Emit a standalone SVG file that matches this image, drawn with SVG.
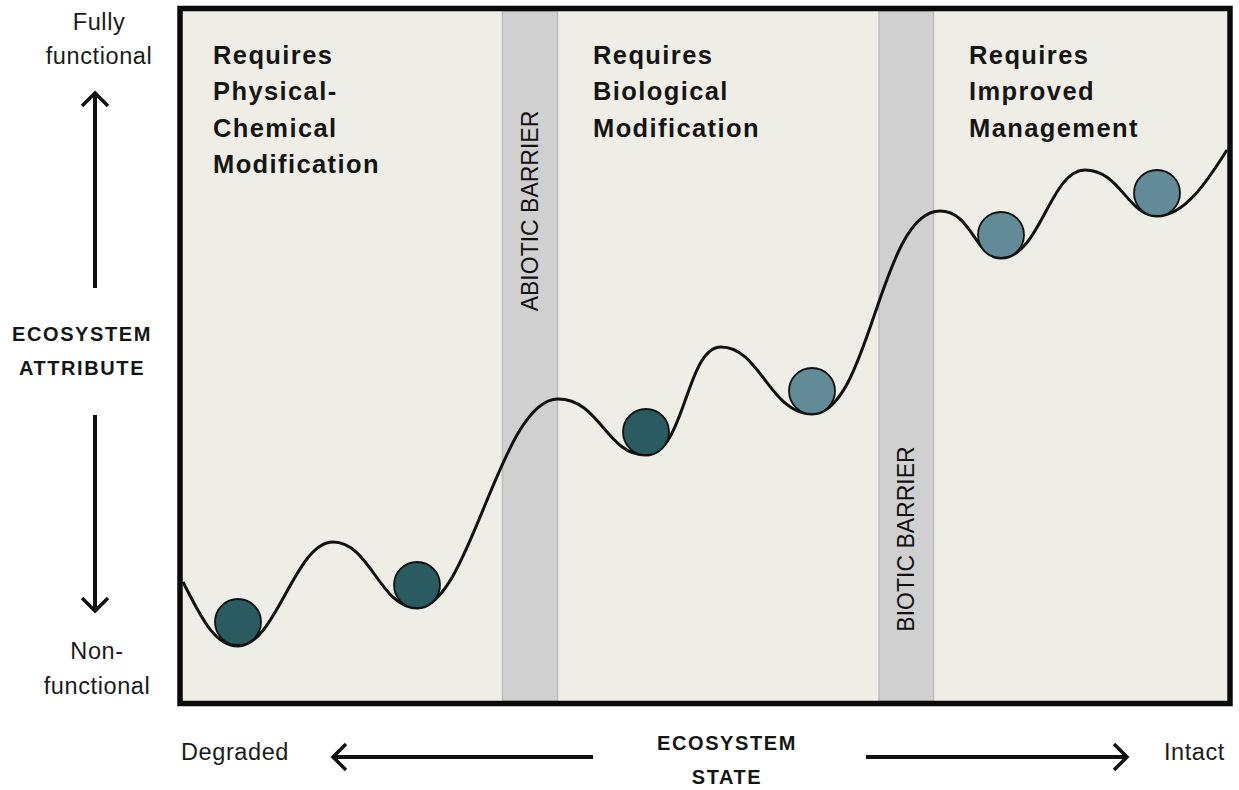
<svg xmlns="http://www.w3.org/2000/svg" width="1239" height="790" viewBox="0 0 1239 790">
<defs>
<style>
.light{font-family:"Liberation Sans",Arial,sans-serif;font-size:23.5px;fill:#1a1a1a;letter-spacing:0.6px}
.axis{font-family:"Liberation Sans",Arial,sans-serif;font-size:20px;font-weight:bold;fill:#151515;letter-spacing:1.6px;text-anchor:middle}
.head{font-family:"Liberation Sans",Arial,sans-serif;font-size:25.5px;font-weight:bold;fill:#151515;letter-spacing:1.4px}
.bar{font-family:"Liberation Sans",Arial,sans-serif;font-size:23px;fill:#111;text-anchor:middle}
.barrier{fill:#d0d0d0;stroke:#bcbcbc;stroke-width:1.5}
.ballD{fill:#2a5b60;stroke:#111;stroke-width:1.8}
.ballL{fill:#628a97;stroke:#111;stroke-width:1.8}
.arr{stroke:#111;stroke-width:4;fill:none}
</style>
<marker id="chev" viewBox="0 0 20 30" refX="16" refY="15" markerWidth="20" markerHeight="30" markerUnits="userSpaceOnUse" orient="auto">
<path d="M3,2 L16,15 L3,28" fill="none" stroke="#111" stroke-width="3.5"/>
</marker>
</defs>
<rect width="1239" height="790" fill="#ffffff"/>
<g id="plot">
<rect x="180" y="8.5" width="1050" height="695" fill="#efeee6"/>
<rect id="abiotic-barrier" class="barrier" x="502.5" y="11" width="55" height="690"/>
<rect id="biotic-barrier" class="barrier" x="879" y="11" width="54.5" height="690"/>
<text class="bar" transform="translate(538,211) rotate(-90)">ABIOTIC BARRIER</text>
<text class="bar" transform="translate(914,539) rotate(-90)">BIOTIC BARRIER</text>
</g>
<g id="landscape">
<path d="M183,582 C200,615 214,646 238,646 C276,646 295,542 333,542 C370,542 380,608 417,608 C470,608 500,399 558,399 C600,399 606,455 646,455 C685,455 686,347 721,347 C760,347 770,414 812,414 C870,414 880,211 940,211 C972,211 975,258 1001,258 C1040,258 1050,170 1085,170 C1120,170 1128,216 1157,216 C1185,216 1208,180 1227,150" fill="none" stroke="#111" stroke-width="3"/>
</g>
<g id="ball1"><circle class="ballD" cx="238" cy="622" r="23"/></g>
<g id="ball2"><circle class="ballD" cx="417" cy="585" r="23"/></g>
<g id="ball3"><circle class="ballD" cx="646" cy="432" r="23"/></g>
<g id="ball4"><circle class="ballL" cx="812" cy="391" r="23"/></g>
<g id="ball5"><circle class="ballL" cx="1001" cy="235" r="23"/></g>
<g id="ball6"><circle class="ballL" cx="1157" cy="193" r="23"/></g>
<rect x="180" y="8.5" width="1050" height="695" fill="none" stroke="#0a0a0a" stroke-width="5.5"/>
<g id="heading-physical">
<text class="head" x="213" y="64">Requires</text>
<text class="head" x="213" y="100">Physical-</text>
<text class="head" x="213" y="137">Chemical</text>
<text class="head" x="213" y="173">Modification</text>
</g>
<g id="heading-biological">
<text class="head" x="593" y="64">Requires</text>
<text class="head" x="593" y="100">Biological</text>
<text class="head" x="593" y="137">Modification</text>
</g>
<g id="heading-management">
<text class="head" x="969" y="64">Requires</text>
<text class="head" x="969" y="100">Improved</text>
<text class="head" x="969" y="137">Management</text>
</g>
<g id="y-axis">
<text class="light" x="99" y="30" text-anchor="middle">Fully</text>
<text class="light" x="99" y="64" text-anchor="middle">functional</text>
<text class="axis" x="82" y="341">ECOSYSTEM</text>
<text class="axis" x="82" y="375">ATTRIBUTE</text>
<text class="light" x="97" y="659" text-anchor="middle">Non-</text>
<text class="light" x="97" y="694" text-anchor="middle">functional</text>
</g>
<g id="x-axis">
<text class="light" x="181" y="760">Degraded</text>
<text class="light" x="1225" y="760" text-anchor="end">Intact</text>
<text class="axis" x="727" y="750">ECOSYSTEM</text>
<text class="axis" x="727" y="784">STATE</text>
</g>
<g id="connectors">
<line class="arr" x1="95" y1="288" x2="95" y2="93" marker-end="url(#chev)"/>
<line class="arr" x1="95" y1="415" x2="95" y2="611" marker-end="url(#chev)"/>
<line class="arr" x1="593" y1="757" x2="333" y2="757" marker-end="url(#chev)"/>
<line class="arr" x1="866" y1="757" x2="1127" y2="757" marker-end="url(#chev)"/>
</g>
</svg>
